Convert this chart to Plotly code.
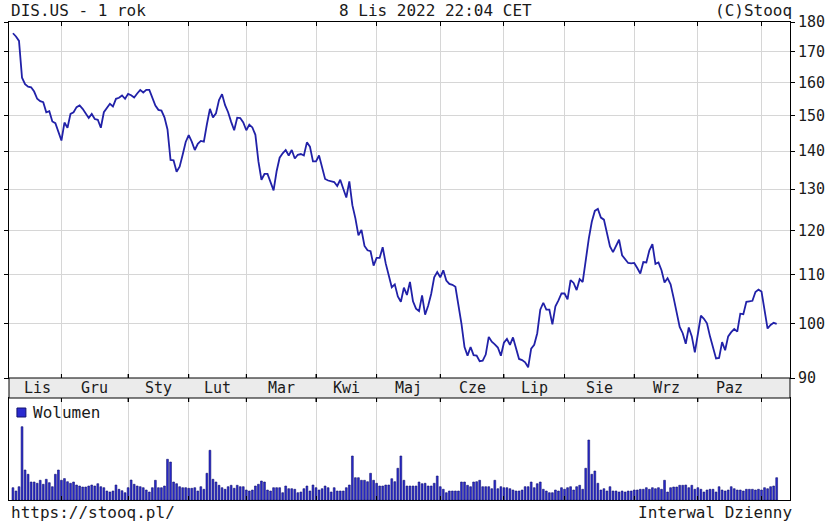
import pandas as pd
import plotly.graph_objects as go

# daily close, DIS.US, 8 Nov 2021 - 8 Nov 2022 (one value per trading day)
prices = [
    176.1, 175, 173.5, 161.5, 159.5, 158.7, 158.5, 157.2, 155, 154.3, 154, 151, 151.3, 148.3, 147.8, 145.3,
    142.9, 148, 146.5, 150.5, 151, 152.5, 153, 152, 150.5, 149.3, 150.5, 149, 148.8, 146.5, 151, 152.3,
    153.5, 152.7, 155, 155.3, 156, 155,
    156.5, 156.1, 155.4, 156.6, 157.7, 156.9, 157.7, 157.7, 155, 153, 151.7, 151.5, 149.5, 146, 137.6,
    137.5, 134.5, 135.8, 139, 142.5,
    144.4, 142.6, 140.3, 142, 142.8, 142.6, 147.5, 152, 149.5, 150.7, 154.6, 156.4, 153.1, 151, 148.2,
    145.8, 149.4, 149.3, 148,
    145.8, 147.4, 146.6, 144.5, 137.2, 132.4, 133.9, 133.9, 131.5, 129.7, 134.6, 138.2, 139.4, 140.3,
    138.8, 140.3, 138, 139, 139.2, 138.8, 142.4, 141.2, 137.2,
    137.2, 138.8, 135.5, 132.6, 132.2, 132, 131.8, 130.8, 132.4, 130.1, 127.9, 132, 126, 122.8, 118.8,
    120.1, 116.4, 115.4, 115.2, 112,
    113.7, 113.7, 116.1, 112.5, 109.9, 107.4, 108, 105.5, 104.4, 107.3, 105.8, 108.5, 104.5, 103, 102.5,
    105.7, 101.8, 103.6, 106, 109.5, 110.6,
    109.5, 111, 108.8, 108.1, 107.9, 107.5, 104, 100, 95.6, 94, 95.6, 94.1, 94, 93, 93.1, 94.2, 97.5,
    96.6, 96.1, 95.5, 94,
    96.4, 97.1, 96, 97.4, 95.4, 93.4, 93.2, 92.8, 91.9, 95.3, 96, 98.2, 102.8, 104.2, 102.8, 102.8, 99.9,
    103.5, 104.7, 106.1,
    106.1, 104.9, 108.9, 108.3, 106.8, 109.1, 108.5, 113.5, 118, 122, 124.6, 125.1, 123, 122.5, 119.5,
    116.3, 115, 116.5, 117.8, 114.3, 113.5, 112.6, 112.5,
    112.6, 111.5, 110.3, 112.8, 112.7, 115.4, 116.8, 112.4, 112.7, 111, 108.4, 109.3, 108, 105.2, 102.5,
    99.4, 98.2, 96.2, 99.3, 97.6, 94.6,
    97.9, 101.6, 101, 100.1, 97.6, 95.6, 93.5, 93.6, 96.5, 95, 97.6, 98.4, 99, 98.5, 102, 101.9, 104.4,
    104.5, 104.6, 106.4, 106.9,
    106.5, 102.8, 99.1, 99.8, 100.2, 100,
]

# volume in millions of shares
volumes = [
    8.6, 6.3, 9.3, 51.3, 21, 18, 12.6, 12.6, 11.7, 13.8, 11, 14.5, 12.1, 9.3, 18, 21,
    13.8, 15, 12.8, 11.7, 12.6, 10.5, 9.8, 9.1, 9.1, 9.8, 10.5, 9.8, 11.4, 9.3, 8.6, 6.3, 5.6, 6.3,
    10.5, 7.5, 6.5, 5.1,
    8.6, 14, 11, 9.8, 9.3, 8.6, 7, 5.6, 8.6, 13.8, 8.6, 8.6, 9.8, 28.5, 26.6, 12.6, 11.4, 9.3, 8.6, 8.6,
    8.2, 8.2, 8.6, 6.3, 9.3, 7.5, 18.7, 34.8, 14.5, 12.6, 10.3, 8.6, 7.5, 9.3, 10.3, 8.2, 10.3, 9.3, 9.3,
    7, 6.3, 7, 9.8, 11, 13.3, 12.6, 7, 6.3, 8.6, 8.6, 8.6, 5.1, 9.8, 7.9, 7.9, 7.5, 5.1, 5.6, 7.9, 9.8,
    6.3, 10.5,
    8.6, 7, 7.9, 9.8, 8.6, 5.6, 8.6, 6.3, 6.3, 6.3, 8.6, 10.5, 30.8, 15.6, 15.6, 13.8, 13.8, 12.8, 18.7, 13.8,
    11.7, 9.8, 9.8, 10.5, 10.5, 14.9, 12.8, 22.2, 30.8, 13.8, 9.8, 9.8, 9.8, 9.8, 12.6, 11.4, 11.7, 9.8,
    9.8, 11.7, 16.8,
    9.3, 7.5, 5.1, 6.3, 6.3, 6.3, 6.3, 12.6, 12.6, 10.3, 9.3, 12.6, 12.8, 13.8, 9.3, 9.3, 9.3, 7.9, 13.8,
    7.9, 9.3,
    8.6, 8.6, 7.9, 7, 6.3, 6.3, 7, 9.3, 9.3, 12.6, 8.6, 11.4, 12.6, 7.5, 6.3, 5.1, 5.1, 7, 6.3, 8.6,
    7.5, 8.6, 9.3, 7, 9.3, 10.3, 7.5, 22.2, 42, 18, 20.3, 11.7, 7, 7.9, 6.3, 9.3, 6.3, 6.3, 5.6, 6.3, 5.6,
    6.3, 6.3,
    7, 7, 7.5, 7.5, 8.6, 7.5, 8.6, 7.9, 8.6, 7.5, 13.8, 5.6, 8.6, 9.1, 9.1, 10.3, 10.3, 10.5, 8.6, 10.3, 7.5,
    8.6, 7.5, 5.6, 7, 7.5, 7.5, 5.6, 9.3, 7, 6.3, 7, 9.3, 7.9, 7, 7, 6.3, 7.5, 7.5, 7.5, 7, 7.5,
    7, 8.6, 7.9, 9.3, 9.8, 15.6,
]

holidays = ['2021-11-25', '2021-12-24', '2022-01-17', '2022-02-21', '2022-04-15',
            '2022-05-30', '2022-06-20', '2022-07-04', '2022-09-05']
month_labels = ['Lis', 'Gru', 'Sty', 'Lut', 'Mar', 'Kwi', 'Maj', 'Cze', 'Lip', 'Sie', 'Wrz', 'Paz']
price_ticks = [90, 100, 110, 120, 130, 140, 150, 160, 170, 180]

dates = pd.bdate_range('2021-11-08', '2022-11-08')
dates = dates[~dates.isin(pd.to_datetime(holidays))]
idx = list(range(len(dates)))
months = dates.to_period('M')
month_starts = [i for i in idx if i == 0 or months[i] != months[i - 1]]

FONT = 'DejaVu Sans Mono'
LINE = '#2121a8'
GRID = '#d6d6d6'

# pixel layout: plot area 4..790 x 22..500
H = 478
main_lo = (500 - 378) / H
vol_hi = (500 - 398) / H
xrange = [-1.3, 256.4]

fig = go.Figure()
fig.add_trace(go.Scatter(x=idx, y=prices, mode='lines', line=dict(color=LINE, width=1.8),
                         xaxis='x', yaxis='y', hoverinfo='skip'))
fig.add_trace(go.Bar(x=idx, y=volumes, width=0.6, marker=dict(color='#2a2ad0', line=dict(color='#12126e', width=0.6)),
                     xaxis='x2', yaxis='y2', hoverinfo='skip'))

axis_common = dict(showline=True, linecolor='black', linewidth=1, mirror='ticks', zeroline=False)
fig.update_layout(
    width=830, height=524,
    margin=dict(l=4, r=40, t=22, b=24),
    paper_bgcolor='white', plot_bgcolor='white',
    showlegend=False,
    font=dict(family=FONT, size=15, color='#1a1a1a'),
    xaxis=dict(domain=[0, 1], range=xrange, tickvals=month_starts[1:], showticklabels=False,
               ticks='inside', ticklen=4, tickcolor='black', showgrid=True, gridcolor=GRID,
               anchor='y', **axis_common),
    yaxis=dict(domain=[main_lo, 1], type='log', range=[2 - 0.04575749, 2.25527251],
               tickvals=price_ticks, ticktext=[str(t) for t in price_ticks], side='right',
               ticks='outside', ticklen=4, tickcolor='black', showgrid=True, gridcolor=GRID,
               anchor='x', **axis_common),
    xaxis2=dict(domain=[0, 1], range=xrange, tickvals=month_starts[1:], showticklabels=False,
                ticks='inside', ticklen=4, tickcolor='black', showgrid=True, gridcolor=GRID,
                anchor='y2', **axis_common),
    yaxis2=dict(domain=[0, vol_hi], range=[0, 71.4], showticklabels=False, ticks='',
                showgrid=False, anchor='x2', **axis_common),
)

shapes = [
    dict(type='rect', xref='paper', yref='paper', x0=0, x1=1, y0=vol_hi, y1=main_lo,
         fillcolor='#ebebeb', line=dict(color='black', width=1)),
    dict(type='rect', xref='paper', yref='paper', x0=(12 - 4) / 786, x1=(21 - 4) / 786,
         y0=(500 - 417) / H, y1=(500 - 408) / H, fillcolor='#2a2ad0',
         line=dict(color='#12126e', width=1)),
]
for m in month_starts[1:]:
    for y0, y1 in [(main_lo, main_lo + 4 / H), (vol_hi - 4 / H, vol_hi)]:
        shapes.append(dict(type='line', xref='x', yref='paper', x0=m, x1=m, y0=y0, y1=y1,
                           line=dict(color='black', width=1)))

annotations = []
for k, lab in enumerate(month_labels):
    mid = (month_starts[k] + month_starts[k + 1]) / 2
    annotations.append(dict(x=mid, y=(main_lo + vol_hi) / 2, xref='x', yref='paper', text=lab,
                            showarrow=False, xanchor='center', yanchor='middle',
                            font=dict(family=FONT, size=15, color='#1a1a1a')))

top_y = (500 - 10) / H
bot_y = (500 - 512) / H
for txt, x, anc, y in [('DIS.US - 1 rok', 0, 'left', top_y),
                       ('8 Lis 2022 22:04 CET', (433 - 4) / 786, 'center', top_y),
                       ('(C)Stooq', (794 - 4) / 786, 'right', top_y),
                       ('https://stooq.pl/', 0, 'left', bot_y),
                       ('Interwal Dzienny', (794 - 4) / 786, 'right', bot_y),
                       ('Wolumen', (26 - 4) / 786, 'left', (500 - 412) / H)]:
    annotations.append(dict(x=x, y=y, xref='paper', yref='paper', text=txt, showarrow=False,
                            xanchor=anc, yanchor='middle',
                            font=dict(family=FONT, size=16, color='#1a1a1a')))

fig.update_layout(shapes=shapes, annotations=annotations)
# page body has an 8px default margin; drop it so the figure sits at the window corner
fig.write_html("out.html", config={'displayModeBar': False},
               post_script="document.body.style.margin='0';")
